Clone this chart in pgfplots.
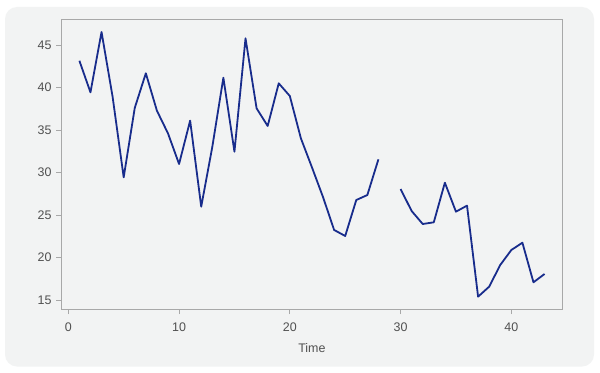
\documentclass[border=0pt]{standalone}
\usepackage{pgfplots}
\pgfplotsset{compat=1.18}
\usepackage{fontspec}
\setmainfont{Liberation Sans}
\definecolor{panel}{RGB}{242,243,243}
\definecolor{navy}{RGB}{24,44,140}
\definecolor{axgray}{RGB}{168,168,168}
\definecolor{txtgray}{RGB}{80,80,80}
\begin{document}
\begin{tikzpicture}[x=1bp,y=1bp]
\fill[white] (0,0) rectangle (600,372);
\fill[panel, rounded corners=12bp] (5,5.5) rectangle (594,365);
\useasboundingbox (0,0) rectangle (600,372);
\begin{axis}[
  at={(61bp,63bp)}, anchor=south west,
  scale only axis, width=501.7bp, height=289bp,
  xmin=-0.66, xmax=44.64, ymin=13.94, ymax=47.94,
  xtick={0,10,20,30,40}, ytick={15,20,25,30,35,40,45},
  axis line style={axgray, line width=1bp},
  tick style={axgray, line width=0.8bp},
  tick align=outside, major tick length=5bp,
  xtick pos=bottom, ytick pos=left,
  axis background/.style={fill=panel},
  font=\fontsize{12.5}{15}\selectfont,
  tick label style={txtgray},
  /pgf/number format/assume math mode=true,
  xticklabel style={yshift=-5bp},
  yticklabel style={xshift=-1bp},
  xlabel={Time},
  xlabel style={txtgray, yshift=-5bp},
  unbounded coords=jump,
]
\addplot[navy, line width=1.8bp, line join=round] table {
x y
1 43.15
2 39.43
3 46.53
4 38.9
5 29.43
6 37.6
7 41.67
8 37.27
9 34.6
10 31.0
11 36.1
12 25.98
13 33.0
14 41.15
15 32.45
16 45.78
17 37.55
18 35.47
19 40.49
20 39.0
21 34.02
22 30.6
23 27.1
24 23.24
25 22.53
26 26.76
27 27.35
28 31.55
29 nan
30 28.06
31 25.47
32 23.94
33 24.14
34 28.8
35 25.39
36 26.1
37 15.39
38 16.57
39 19.12
40 20.88
41 21.74
42 17.08
43 18.06
};
\end{axis}
\end{tikzpicture}
\end{document}
